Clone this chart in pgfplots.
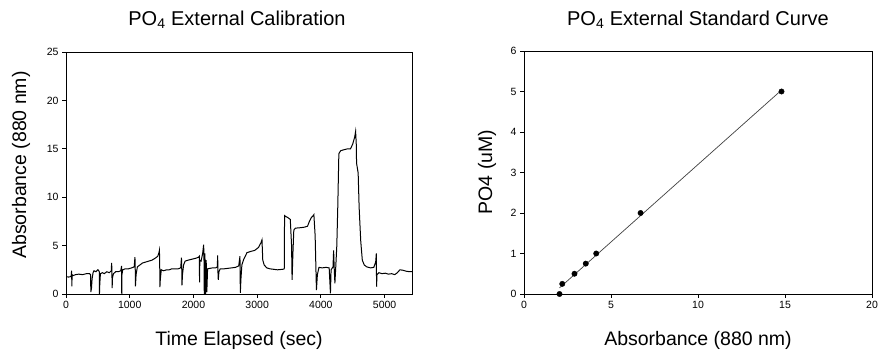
\documentclass[border=0pt]{standalone}
\usepackage{pgfplots}
\pgfplotsset{compat=1.18}
\usepackage{fontspec}
\setmainfont{Liberation Sans}
\pgfplotstableread{
t a
0 1.8
40 1.75
80 1.8
88 2.4
92 0.8
96 2.0
110 1.9
150 2.0
200 2.05
260 2.0
320 2.1
370 2.1
385 2.0
390 0.2
400 0.6
410 1.6
425 2.2
440 2.4
470 2.3
500 2.5
515 2.4
522 2.3
525 0.0
530 1.0
540 2.1
570 2.2
600 2.1
640 2.3
680 2.2
710 2.4
716 3.2
720 2.6
724 0.6
730 1.7
745 2.1
780 2.3
820 2.3
860 2.4
872 2.9
875 0.0
878 2.0
890 2.5
930 2.6
980 2.6
1030 2.7
1070 2.8
1082 3.8
1086 2.9
1090 0.8
1100 2.0
1120 2.8
1160 3.0
1200 3.2
1250 3.3
1300 3.4
1350 3.5
1400 3.7
1440 3.9
1460 4.3
1466 4.5
1470 3.5
1474 0.7
1480 1.5
1495 2.5
1530 2.4
1580 2.5
1620 2.5
1660 2.6
1700 2.6
1760 2.6
1800 2.7
1812 3.75
1816 2.8
1820 0.9
1828 2.0
1845 3.0
1870 3.4
1920 3.5
1980 3.6
2040 3.7
2080 3.8
2092 3.9
2096 1.2
2100 3.5
2120 3.4
2145 4.2
2160 5.1
2165 4.0
2170 0.0
2180 4.2
2190 0.0
2200 3.5
2210 0.2
2222 2.6
2260 2.65
2300 2.7
2350 2.7
2375 2.8
2380 4.0
2385 2.2
2390 1.45
2400 2.3
2420 2.6
2480 2.6
2540 2.65
2600 2.7
2660 2.75
2710 2.9
2730 3.9
2736 0.13
2745 1.5
2760 3.0
2790 3.6
2840 4.27
2900 4.4
2960 4.5
3020 4.8
3060 5.3
3076 5.6
3082 4.5
3088 3.5
3110 3.0
3150 2.7
3200 2.6
3260 2.55
3320 2.5
3400 2.55
3425 2.6
3430 8.1
3450 8.0
3480 7.9
3520 7.7
3540 5.0
3548 1.45
3560 4.0
3575 6.6
3600 6.8
3680 6.85
3740 6.9
3790 7.0
3820 7.5
3850 7.9
3880 8.1
3890 8.2
3910 6.0
3930 0.4
3945 2.0
3970 2.75
4020 2.7
4080 2.75
4130 2.7
4150 0.07
4160 2.5
4190 2.8
4200 4.5
4210 2.5
4220 1.1
4235 3.0
4250 5.0
4265 9.0
4282 14.5
4310 14.8
4360 14.9
4420 15.0
4465 15.0
4500 15.5
4530 16.2
4545 16.8
4555 15.5
4560 13.5
4585 12.5
4600 9.0
4625 5.5
4650 3.5
4680 3.0
4720 2.8
4780 2.7
4830 2.75
4860 3.3
4870 4.2
4874 0.75
4880 2.0
4910 2.2
4960 2.1
5010 2.15
5060 2.05
5110 2.1
5160 2.0
5200 2.2
5240 2.5
5290 2.45
5340 2.35
5400 2.3
5430 2.3
}\calib
\pgfplotstableread{
x y
2.04 0
2.2 0.25
2.9 0.5
3.55 0.75
4.15 1.0
6.7 2.0
14.8 5.0
}\standards
\begin{document}
\begin{tikzpicture}[x=1pt,y=1pt]
\path[use as bounding box] (0,0) rectangle (880,358);
\pgfplotsset{
  every axis/.append style={
    scale only axis, anchor=south west,
    tick align=outside, tick pos=left, major tick length=4pt,
    ticklabel style={font=\fontsize{10.5}{12}\selectfont},
    /pgf/number format/assume math mode=true,
    /pgf/number format/1000 sep={},
    scaled ticks=false,
    axis line style={black, line width=0.8pt},
    every tick/.style={black, line width=0.8pt},
  }
}
\begin{axis}[at={(66pt,64pt)}, width=346pt, height=242pt,
  xmin=0, xmax=5430, ymin=0, ymax=25,
  xtick={0,1000,...,5000}, ytick={0,5,...,25}]
\addplot[black, line width=1pt, mark=none] table[x=t, y=a] {\calib};
\end{axis}
\begin{axis}[at={(524pt,64pt)}, width=348pt, height=243pt,
  xmin=0, xmax=20, ymin=0, ymax=6,
  xtick={0,5,...,20}, ytick={0,1,...,6}]
\addplot[black!75, line width=0.7pt, mark=none] coordinates {(2.04,0.151) (14.8,5.035)};
\addplot[only marks, mark=*, mark size=2.7pt, black] table[x=x, y=y] {\standards};
\end{axis}
\node[font=\fontsize{20}{24}\selectfont] at (237,338) {PO\textsubscript{4} External Calibration};
\node[font=\fontsize{20}{24}\selectfont] at (698,338) {PO\textsubscript{4} External Standard Curve};
\node[font=\fontsize{19.5}{23}\selectfont] at (239,18) {Time Elapsed (sec)};
\node[font=\fontsize{19.5}{23}\selectfont] at (698,18) {Absorbance (880 nm)};
\node[font=\fontsize{19.5}{23}\selectfont, rotate=90] at (21,193) {Absorbance (880 nm)};
\node[font=\fontsize{19.5}{23}\selectfont, rotate=90] at (487,186) {PO4 (uM)};
\end{tikzpicture}
\end{document}
